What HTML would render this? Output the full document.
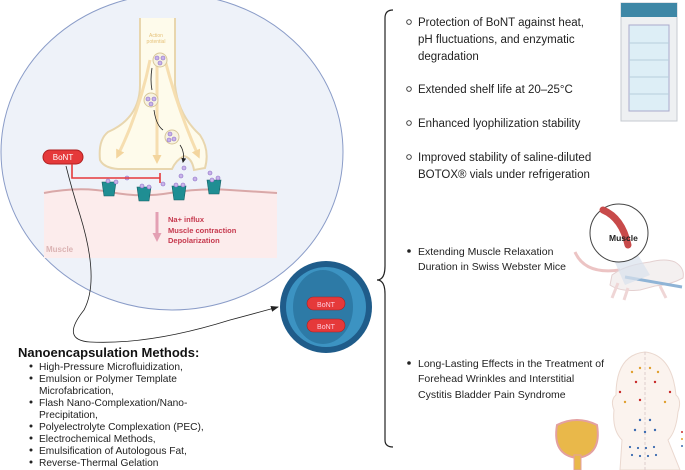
<!DOCTYPE html>
<html><head><style>
body{margin:0;width:685px;height:470px;background:#fff;overflow:hidden;font-family:"Liberation Sans",sans-serif}
svg{position:absolute;left:0;top:0}
</style></head><body>
<svg width="685" height="470" viewBox="0 0 685 470" font-family="Liberation Sans, sans-serif">
<defs>
<marker id="ah" markerUnits="userSpaceOnUse" markerWidth="8" markerHeight="8" refX="7" refY="4" orient="auto"><path d="M0,1 L8,4 L0,7z" fill="#222"/></marker>
<marker id="ahy" markerUnits="userSpaceOnUse" markerWidth="9" markerHeight="9" refX="5" refY="4.5" orient="auto"><path d="M0,0 L9,4.5 L0,9z" fill="#f3d59e"/></marker>
<marker id="ahp" markerUnits="userSpaceOnUse" markerWidth="9" markerHeight="9" refX="5" refY="4.5" orient="auto"><path d="M0,0 L9,4.5 L0,9z" fill="#e3a0b3"/></marker>
<marker id="ahs" markerUnits="userSpaceOnUse" markerWidth="5" markerHeight="5" refX="4" refY="2.5" orient="auto"><path d="M0,0 L5,2.5 L0,5z" fill="#222"/></marker>
</defs>
<ellipse cx="172" cy="152" rx="171" ry="158" fill="#eef2f9" stroke="#8a9cc8" stroke-width="1"/>
<rect x="44" y="190" width="233" height="68" fill="#fcecec"/>
<path d="M44,193 Q80,186 110,192 T170,193 T230,190 T277,193" fill="none" stroke="#d9a8a8" stroke-width="2"/>
<path d="M140,18 L140,85 Q140,118 108,132 Q98,140 100,160 Q104,168 118,169 L172,169 Q176,160 184,156 Q192,158 194,170 L205,168 Q210,150 200,135 Q178,115 175,85 L175,18" fill="#fefbeb" stroke="#e8d6ae" stroke-width="2"/>
<path d="M150,60 Q140,110 118,155" stroke="#f6deb0" stroke-width="3" fill="none" marker-end="url(#ahy)"/>
<path d="M157,60 L157,160" stroke="#f6deb0" stroke-width="3" fill="none" marker-end="url(#ahy)"/>
<path d="M165,60 Q178,110 198,155" stroke="#f6deb0" stroke-width="3" fill="none" marker-end="url(#ahy)"/>
<text x="156" y="37" font-size="5" fill="#e6c27a" text-anchor="middle">Action</text>
<text x="156" y="43" font-size="5" fill="#e6c27a" text-anchor="middle">potential</text>
<g fill="#f7f2e0" stroke="#d8c79a"><circle cx="160" cy="60" r="7"/><circle cx="151" cy="100" r="7"/><circle cx="172" cy="137" r="7"/></g>
<g fill="#c9b3ea" stroke="#8b6fc4" stroke-width=".6"><circle cx="157" cy="58" r="2"/><circle cx="163" cy="58" r="2"/><circle cx="160" cy="63" r="2"/><circle cx="148" cy="99" r="2"/><circle cx="154" cy="99" r="2"/><circle cx="151" cy="104" r="2"/><circle cx="170" cy="134" r="2"/><circle cx="174" cy="139" r="2"/><circle cx="169" cy="140" r="2"/><circle cx="184" cy="168" r="2"/><circle cx="181" cy="176" r="2"/><circle cx="195" cy="179" r="2"/><circle cx="127" cy="178" r="2"/><circle cx="163" cy="184" r="2"/><circle cx="210" cy="173" r="2"/></g>
<path d="M152,68 Q150,80 152,90 M154,110 Q156,125 163,130 M180,145 Q185,152 183,162" stroke="#222" fill="none" stroke-width=".8" marker-end="url(#ahs)"/>
<rect x="43" y="150" width="40" height="14" rx="7" fill="#e5393a" stroke="#b02020"/>
<text x="63" y="160" font-size="8" fill="#fff" text-anchor="middle">BoNT</text>
<path d="M72,164 L72,178 L160,178 M160,173 L160,183" stroke="#e5393a" stroke-width="1.6" fill="none"/>
<g fill="#1f8e93" stroke="#145e63" stroke-width=".6">
<path d="M102,182 h14 l-2,14 h-10z"/><path d="M137,187 h14 l-2,14 h-10z"/><path d="M172,186 h14 l-2,14 h-10z"/><path d="M207,180 h14 l-2,14 h-10z"/>
</g>
<g fill="#c9b3ea" stroke="#8b6fc4" stroke-width=".6"><circle cx="108" cy="181" r="2"/><circle cx="116" cy="182" r="2"/><circle cx="142" cy="186" r="2"/><circle cx="149" cy="187" r="2"/><circle cx="176" cy="185" r="2"/><circle cx="183" cy="185" r="2"/><circle cx="212" cy="180" r="2"/><circle cx="218" cy="178" r="2"/></g>
<path d="M157,212 L157,238" stroke="#e3a0b3" stroke-width="3" marker-end="url(#ahp)"/>
<g font-size="7.5" font-weight="bold" fill="#c6394e"><text x="168" y="222">Na+ influx</text><text x="168" y="233">Muscle contraction</text><text x="168" y="243">Depolarization</text></g>
<text x="46" y="252" font-size="8" font-weight="bold" fill="#dbb3b3">Muscle</text>
<path d="M66,166 Q72,190 80,215 Q100,280 84,310 Q60,340 90,342 Q150,345 230,320 Q260,312 278,307" fill="none" stroke="#222" stroke-width=".8" marker-end="url(#ah)"/>
<circle cx="326" cy="307" r="46" fill="#1f5c8a"/>
<circle cx="326" cy="307" r="40" fill="#3c93c2"/>
<ellipse cx="323" cy="307" rx="30" ry="37" fill="#2d7aa6"/>
<rect x="307" y="297" width="38" height="13" rx="6.5" fill="#e5393a" stroke="#a82020" stroke-width=".6"/>
<text x="326" y="307" font-size="7" fill="#fcd" text-anchor="middle">BoNT</text>
<rect x="307" y="319" width="38" height="13" rx="6.5" fill="#e5393a" stroke="#a82020" stroke-width=".6"/>
<text x="326" y="329" font-size="7" fill="#fcd" text-anchor="middle">BoNT</text>
<path d="M393,10 Q385,10 385,18 L385,266 Q385,280 377,280 Q385,280 385,294 L385,440 Q385,447 393,447" fill="none" stroke="#222" stroke-width="1.2"/>
<g font-size="11.5" fill="#222">
<text x="418" y="26">Protection of BoNT against heat,</text>
<text x="418" y="43">pH fluctuations, and enzymatic</text>
<text x="418" y="60">degradation</text>
<text x="418" y="93">Extended shelf life at 20–25°C</text>
<text x="418" y="127">Enhanced lyophilization stability</text>
<text x="418" y="161">Improved stability of saline-diluted</text>
<text x="418" y="178">BOTOX® vials under refrigeration</text>
</g>
<g fill="none" stroke="#333" stroke-width=".9"><circle cx="409" cy="22" r="2.3"/><circle cx="409" cy="89" r="2.3"/><circle cx="409" cy="123" r="2.3"/><circle cx="409" cy="157" r="2.3"/></g>
<g font-size="10.5" fill="#222">
<text x="418" y="255">Extending Muscle Relaxation</text>
<text x="418" y="270">Duration in Swiss Webster Mice</text>
<text x="418" y="367">Long-Lasting Effects in the Treatment of</text>
<text x="418" y="382">Forehead Wrinkles and Interstitial</text>
<text x="418" y="398">Cystitis Bladder Pain Syndrome</text>
</g>
<g fill="#222"><circle cx="409" cy="251" r="1.8"/><circle cx="409" cy="363" r="1.8"/></g>
<rect x="621" y="3" width="56" height="118" fill="#eef0f2" stroke="#c5cad0"/>
<rect x="621" y="3" width="56" height="14" fill="#3e87a6"/>
<rect x="629" y="25" width="40" height="86" fill="#ddeef6" stroke="#aac"/>
<g stroke="#b6cfdc"><line x1="629" y1="43" x2="669" y2="43"/><line x1="629" y1="60" x2="669" y2="60"/><line x1="629" y1="77" x2="669" y2="77"/><line x1="629" y1="94" x2="669" y2="94"/></g>
<path d="M575,252 Q585,275 620,270" fill="none" stroke="#ecc4c4" stroke-width="3"/>
<path d="M612,275 Q625,265 650,262 Q665,258 675,262 Q685,268 683,278 Q670,285 655,286 L640,290 Q620,292 610,285z" fill="#f4f0f0" stroke="#e4d0d0"/>
<path d="M618,283 L612,298 M628,288 L624,300 M660,286 L666,298" stroke="#efd6d6" stroke-width="3"/>
<line x1="625" y1="277" x2="682" y2="287" stroke="#8fb4d6" stroke-width="3"/>
<path d="M605,240 L625,285 L650,275 L635,250z" fill="#d8e1ec" opacity=".7"/>
<circle cx="619" cy="233" r="29" fill="#fff" stroke="#444"/>
<path d="M603,210 Q622,218 628,245" stroke="#c84a4a" stroke-width="7" fill="none" stroke-linecap="round"/>
<text x="609" y="241" font-size="8.5" font-weight="bold" fill="#222">Muscle</text>
<path d="M620,470 L622,440 Q612,430 614,410 Q610,400 616,395 Q616,355 645,352 Q672,355 676,395 Q682,400 678,412 Q676,432 668,440 L680,470z" fill="#fbf3ee" stroke="#ead8cf"/>
<line x1="645" y1="352" x2="645" y2="470" stroke="#dcc" stroke-dasharray="3,2"/>
<g fill="#e0a030"><circle cx="632" cy="372" r="1.2"/><circle cx="640" cy="368" r="1.2"/><circle cx="650" cy="368" r="1.2"/><circle cx="658" cy="372" r="1.2"/><circle cx="625" cy="402" r="1.2"/><circle cx="665" cy="402" r="1.2"/></g>
<g fill="#c82a2a"><circle cx="620" cy="392" r="1.2"/><circle cx="670" cy="392" r="1.2"/><circle cx="636" cy="382" r="1.2"/><circle cx="655" cy="382" r="1.2"/><circle cx="640" cy="400" r="1.2"/></g>
<g fill="#3a6ab0"><circle cx="640" cy="420" r="1.2"/><circle cx="650" cy="420" r="1.2"/><circle cx="635" cy="430" r="1.2"/><circle cx="655" cy="430" r="1.2"/><circle cx="645" cy="432" r="1.2"/><circle cx="630" cy="447" r="1.1"/><circle cx="638" cy="448" r="1.1"/><circle cx="646" cy="448" r="1.1"/><circle cx="654" cy="447" r="1.1"/><circle cx="632" cy="455" r="1.1"/><circle cx="640" cy="456" r="1.1"/><circle cx="648" cy="456" r="1.1"/><circle cx="656" cy="455" r="1.1"/></g>
<g><circle cx="682" cy="432" r="1" fill="#c82a2a"/><circle cx="682" cy="439" r="1" fill="#e0a030"/><circle cx="682" cy="446" r="1" fill="#3a6ab0"/></g>
<path d="M557,425 Q552,455 577,458 Q602,455 597,425 Q577,415 557,425z" fill="#e9b84a" stroke="#e3a0a0" stroke-width="2"/>
<rect x="574" y="455" width="7" height="15" fill="#e9b84a" stroke="#e3a0a0"/>
<text x="18" y="357" font-size="13" font-weight="bold" fill="#111">Nanoencapsulation Methods:</text>
<g font-size="10.2" fill="#222">
<text x="39" y="370">High-Pressure Microfluidization,</text>
<text x="39" y="382">Emulsion or Polymer Template</text>
<text x="39" y="394">Microfabrication,</text>
<text x="39" y="406">Flash Nano-Complexation/Nano-</text>
<text x="39" y="418">Precipitation,</text>
<text x="39" y="430">Polyelectrolyte Complexation (PEC),</text>
<text x="39" y="442">Electrochemical Methods,</text>
<text x="39" y="454">Emulsification of Autologous Fat,</text>
<text x="39" y="466">Reverse-Thermal Gelation</text>
</g>
<g fill="#222"><circle cx="31" cy="366" r="1.5"/><circle cx="31" cy="378" r="1.5"/><circle cx="31" cy="402" r="1.5"/><circle cx="31" cy="426" r="1.5"/><circle cx="31" cy="438" r="1.5"/><circle cx="31" cy="450" r="1.5"/><circle cx="31" cy="462" r="1.5"/></g>
</svg>
</body></html>
